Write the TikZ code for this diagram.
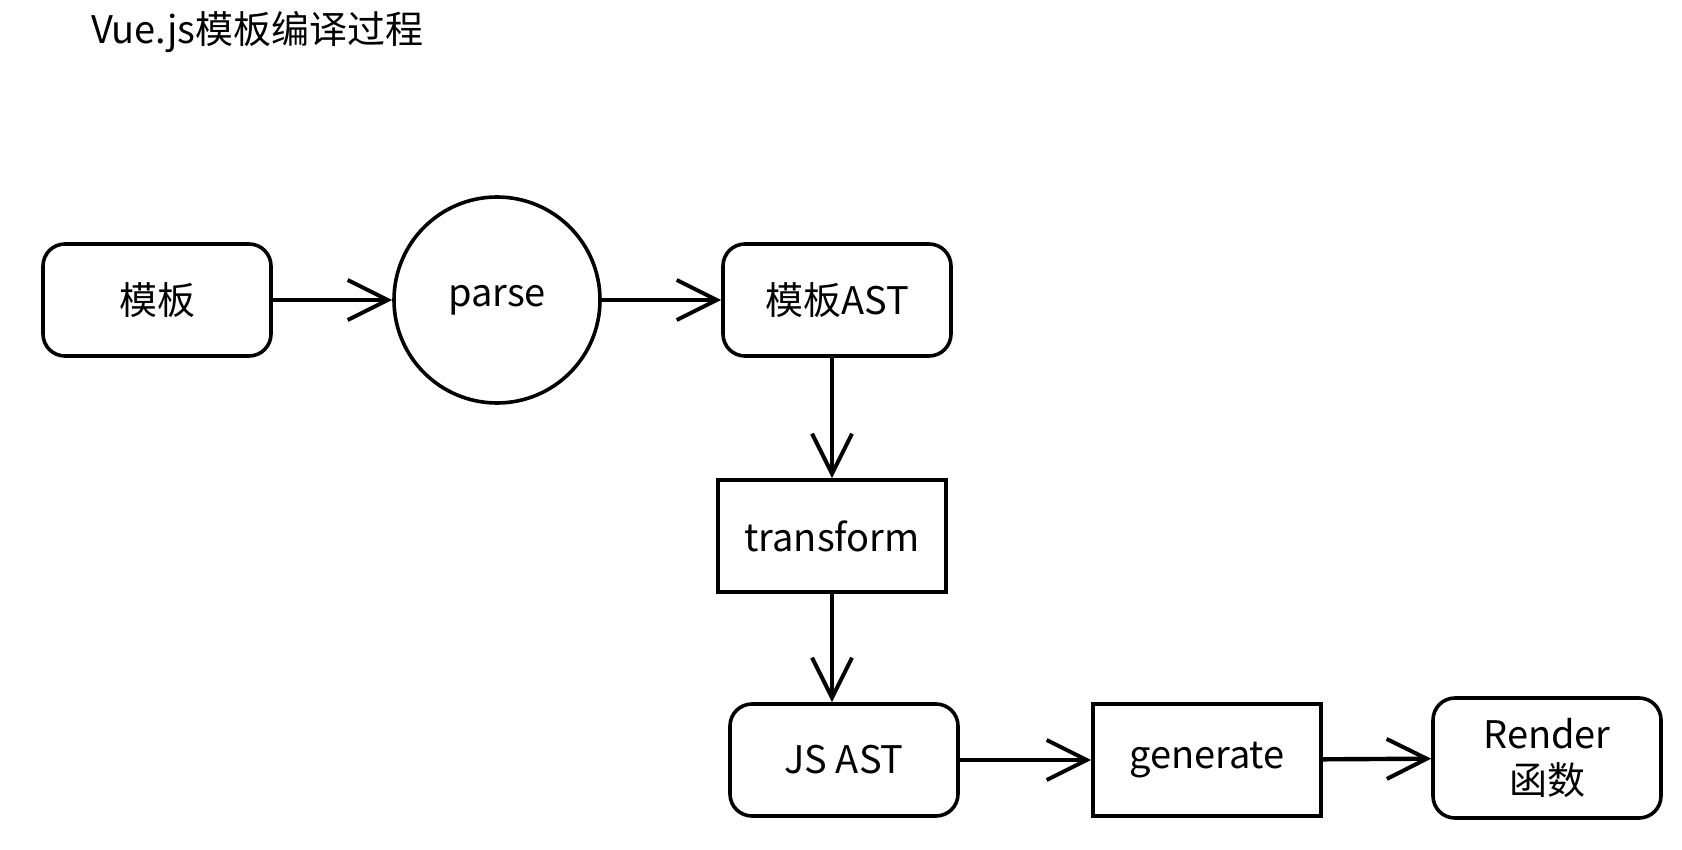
\documentclass[tikz,border=0pt]{standalone}
\usepackage{fontspec}
\setmainfont{Noto Sans CJK SC}
\usepackage{tikz}
\usetikzlibrary{arrows.meta,calc}

\tikzset{
  box/.style={draw, line width=1.8pt, minimum width=114pt, minimum height=56pt,
    inner sep=2pt, font=\fontsize{19}{23}\selectfont, align=center},
  rbox/.style={box, rounded corners=11pt},
  ring/.style={draw, circle, line width=1.8pt, minimum size=103pt,
    font=\fontsize{19}{23}\selectfont},
  arr/.style={line width=2.2pt, -{Straight Barb[length=20pt,width=20pt,line width=2pt]}},
}

\begin{document}
\begin{tikzpicture}[x=0.5pt,y=-0.5pt]
  % 画像と同じ大きさ(1 単位 = 1 px)
  \useasboundingbox (0,0) rectangle (1682,850);

  % 標題
  \node[anchor=west, font=\fontsize{19}{23}\selectfont] (title) at (84,32) {Vue.js模板编译过程};

  % 上段
  \node[rbox] (tmpl) at (157,300) {模板};
  \node[ring] (parse) at (497,300) {parse};
  \node[rbox] (tast) at (837,300) {模板AST};

  % 中段
  \node[box] (trans) at (832,536) {transform};

  % 下段
  \node[rbox] (jsast) at (844,760) {JS AST};
  \node[box] (gen) at (1207,760) {generate};
  \node[rbox, minimum height=60pt] (render) at (1547,758) {Render\\函数};

  % 矢印
  \draw[arr] (tmpl) -- (parse);
  \draw[arr] (parse) -- (tast);
  \draw[arr] (tast.south -| trans.north) -- (trans.north);
  \draw[arr] (trans) -- (trans |- jsast.north);
  \draw[arr] (jsast) -- (gen);
  \draw[arr] (gen) -- (render);
\end{tikzpicture}
\end{document}
